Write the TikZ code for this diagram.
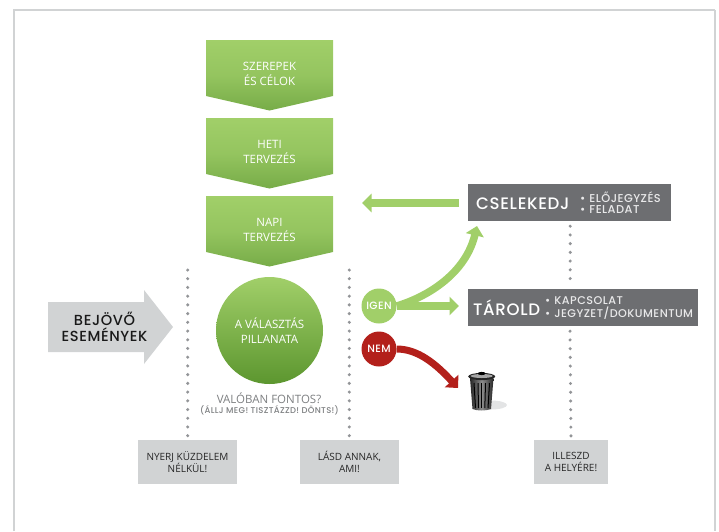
\documentclass[tikz,border=0pt]{standalone}
\usepackage{fontspec}
\usepackage{tikz}
\usetikzlibrary{arrows.meta,positioning,calc}
\setmainfont{Open Sans}
\newfontfamily\headfont[LetterSpace=4]{Poppins Medium}
\definecolor{leaf}{HTML}{A1CF69}
\definecolor{leafdark}{HTML}{77AC48}
\definecolor{moss}{HTML}{5C962F}
\definecolor{slate}{HTML}{6D6E71}
\definecolor{paper}{HTML}{D1D3D4}
\definecolor{dotgray}{HTML}{939598}
\definecolor{brick}{HTML}{B3201B}
\tikzset{
  planlabel/.style={text=white,align=center,font=\fontsize{11.5}{15}\selectfont},
  notebox/.style={fill=paper,minimum width=#1,minimum height=44,align=center,
    inner sep=0pt,text=black!85,font=\fontsize{10}{12}\selectfont},
  darkbox/.style={fill=slate,minimum height=37,inner sep=0pt,anchor=west},
  pickdot/.style={circle,minimum size=35,inner sep=0pt,text=white,
    font=\headfont\fontsize{10.6}{12}\selectfont},
  dotline/.style={dotgray,line width=3.4,line cap=round,dash pattern=on 0pt off 8.72pt},
  fatarrow/.style={line width=#1,-{Triangle[length=9.5pt,width=18pt]}},
}
\begin{document}
\begin{tikzpicture}[x=1pt,y=-1pt]
  \useasboundingbox (0,0) rectangle (719,531);

  % --- frame ---
  \draw[paper,line width=1.5] (14,531) -- (14,10) -- (715,10);
  \draw[paper,line width=2.2] (715,10) -- (715,531);

  % --- green planning steps ---
  \foreach \yy/\nm/\txt in {40/roles/{SZEREPEK\\ÉS CÉLOK},118/week/{HETI\\TERVEZÉS},196/day/{NAPI\\TERVEZÉS}}{
    \shade[top color=leaf,bottom color=leafdark,middle color=leaf!70!leafdark,shading angle=0]
      (206,\yy) -- (333,\yy) -- (333,\yy+56) -- (269.5,\yy+70.5) -- (206,\yy+56) -- cycle;
    \node[planlabel] (\nm) at (269.5,\yy+33.5) {\txt};
  }

  % --- moment of choice ---
  \shade[top color=leaf,bottom color=moss,middle color=leaf!50!moss] (269.5,330.5) circle (53.5);
  \node[planlabel] (moment) at (269.5,330.5) {A VÁLASZTÁS\\PILLANATA};
  \node[text=dotgray!85!black,font=\fontsize{11.5}{13}\selectfont] (really) at (269,398) {VALÓBAN FONTOS?};
  \node[text=dotgray!85!black,font=\headfont\fontsize{8.4}{10}\selectfont] (stop) at (269.5,410) {(ÁLLJ MEG! TISZTÁZZD! DÖNTS!)};

  % --- incoming arrow ---
  \fill[paper] (48,302) -- (144,302) -- (144,290) -- (173,327) -- (144,364) -- (144,352) -- (48,352) -- cycle;
  \node[align=center,text=black!90,font=\headfont\fontsize{14.6}{16}\selectfont] (incoming) at (104.5,327) {BEJÖVŐ\\ESEMÉNYEK};

  % --- boxes at the bottom ---
  \node[notebox=99] (win) at (187.5,462) {NYERJ KÜZDELEM\\NÉLKÜL!};
  \node[notebox=99] (see) at (349.5,462) {LÁSD ANNAK,\\AMI!};
  \node[notebox=74] (fit) at (571,462) {ILLESZD\\A HELYÉRE!};

  % --- action boxes ---
  \node[darkbox,minimum width=203] (act) at (468,202.5) {};
  \node[darkbox,minimum width=230] (store) at (468,307.5) {};
  \node[text=white,anchor=west,inner sep=0pt,font=\headfont\fontsize{16.6}{18}\selectfont] (acttxt) at (476,203.5) {CSELEKEDJ};
  \node[text=white!85!slate,anchor=west,inner sep=0pt,align=left,font=\headfont\fontsize{11.4}{11.5}\selectfont] (actlist) at (580,202.5) {•\hspace{4pt}ELŐJEGYZÉS\\•\hspace{4pt}FELADAT};
  \node[text=white,anchor=west,inner sep=0pt,font=\headfont\fontsize{16.6}{18}\selectfont] (storetxt) at (473,308) {TÁROLD};
  \node[text=white!85!slate,anchor=west,inner sep=0pt,align=left,font=\headfont\fontsize{11.2}{13}\selectfont] (storelist) at (545,308.5) {•\hspace{4pt}KAPCSOLAT\\•\hspace{4pt}JEGYZET/DOKUMENTUM};

  % --- dotted lines ---
  \coordinate (lefttop) at (187.7,270);
  \coordinate (midtop) at (349.3,270);
  \draw[dotline] (lefttop) -- (win.north -| lefttop);
  \draw[dotline] (midtop) -- (see.north -| midtop);
  \draw[dotline] ($(act.south)+(0.5,5)$) -- ($(store.north -| act.south)+(0.5,-4)$);
  \draw[dotline] ($(store.south -| fit.north)+(-1,5)$) -- (fit.north);

  % --- yes and no ---
  \node[pickdot,fill=leaf] (yes) at (379,306) {IGEN};
  \node[pickdot,fill=brick] (no) at (379,349) {NEM};
  \coordinate (backtip) at (362,203);
  \coordinate (acttip) at (477,226);
  \coordinate (bintip) at (458,388);

  % --- arrows ---
  \draw[leaf,fatarrow=7.5] ($(act.west)+(-9,0.5)$) -- (backtip);
  \draw[leaf,fatarrow=7.5] (yes.east) -- ($(store.west)+(-9,-1.5)$);
  \draw[leaf,fatarrow=7.5] (yes.east) .. controls (430,296) and (466,272) .. (acttip);
  \draw[brick,fatarrow=7] (no.east) .. controls (418,349) and (436,364) .. (bintip);

  % --- bin ---
  \fill[paper!60] (491,405) ellipse (16 and 4.5);
  \shade[left color=black!85,right color=black!85,middle color=black!45]
    (470,378) -- (493.5,378) -- (491,409) .. controls (486,411) and (477,411) .. (472.5,409) -- cycle;
  \foreach \xx/\xb in {474/475.5,478/478.5,481.7/481.7,485.5/484.8,489.5/488}{
    \draw[black,line width=1] (\xx,383) -- (\xb,408);
  }
  \fill[black!85] (481.7,376.5) ellipse (13.5 and 3.6);
  \fill[black!35] (481.7,376) ellipse (11 and 2);
  \fill[black] (481.7,373.5) ellipse (4 and 1.6);
\end{tikzpicture}
\end{document}
